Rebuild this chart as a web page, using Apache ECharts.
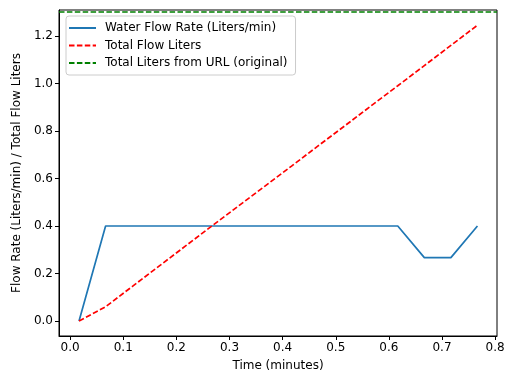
<!DOCTYPE html>
<html><head><meta charset="utf-8">
<script src="https://cdn.jsdelivr.net/npm/echarts@6/dist/echarts.min.js"></script>
<style>html,body{margin:0;padding:0;background:#fff}#c{width:512px;height:377px}</style>
</head><body><div id="c"></div>
<script>
var timeMin = [0.0167,0.0667,0.1167,0.1667,0.2167,0.2667,0.3167,0.3667,0.4167,0.4667,0.5167,0.5667,0.6167,0.6667,0.7167,0.7667];
var flowRate = [0,0.4,0.4,0.4,0.4,0.4,0.4,0.4,0.4,0.4,0.4,0.4,0.4,0.2667,0.2667,0.4];
var totalLiters = [0,0.06,0.145,0.23,0.315,0.40,0.484,0.568,0.652,0.737,0.821,0.906,0.99,1.075,1.16,1.245];
var urlTotal = 1.3;
var xTicks = [0,0.1,0.2,0.3,0.4,0.5,0.6,0.7,0.8];
var yTicks = [0,0.2,0.4,0.6,0.8,1.0,1.2];
var names = ['Water Flow Rate (Liters/min)','Total Flow Liters','Total Liters from URL (original)'];

function pairs(xs, ys){ return xs.map(function(x,i){return [x, ys[i]];}); }
var font = 'DejaVu Sans';
var dash = [5.5,2.4];
var chart = echarts.init(document.getElementById('c'), null, {renderer:'canvas'});
chart.setOption({
  animation:false,
  backgroundColor:'#fff',
  textStyle:{fontFamily:font},
  grid:{left:59,right:15,top:10,bottom:41,show:true,borderColor:'#000',borderWidth:1,backgroundColor:'transparent'},
  legend:{
    orient:'vertical', left:66, top:16, data:names,
    itemWidth:27, itemHeight:12, itemGap:5.5,
    padding:[6,8,6,2],
    itemStyle:{opacity:0},
    backgroundColor:'rgba(255,255,255,0.8)', borderColor:'#cccccc', borderWidth:1, borderRadius:3,
    textStyle:{fontFamily:font, fontSize:12, color:'#000', padding:[0,0,0,4]}
  },
  xAxis:{
    type:'value', min:-0.021, max:0.8035,
    name:'Time (minutes)', nameLocation:'middle', nameGap:24,
    nameTextStyle:{fontFamily:font, fontSize:12, color:'#000'},
    axisLine:{show:true,onZero:false,lineStyle:{color:'#000'}},
    axisTick:{show:true,length:4,customValues:xTicks,lineStyle:{color:'#000'}},
    axisLabel:{customValues:xTicks,fontFamily:font,fontSize:12,color:'#000',margin:6,formatter:function(v){return v.toFixed(1);}},
    splitLine:{show:false}
  },
  yAxis:{
    type:'value', min:-0.063, max:1.309,
    name:'Flow Rate (Liters/min) / Total Flow Liters', nameLocation:'middle', nameGap:33,
    nameTextStyle:{fontFamily:font, fontSize:12, color:'#000'},
    axisLine:{show:true,onZero:false,lineStyle:{color:'#000'}},
    axisTick:{show:true,length:4,customValues:yTicks,lineStyle:{color:'#000'}},
    axisLabel:{customValues:yTicks,fontFamily:font,fontSize:12,color:'#000',margin:6,formatter:function(v){return v.toFixed(1);}},
    splitLine:{show:false}
  },
  series:[
    {name:names[0], type:'line', data:pairs(timeMin, flowRate), symbol:'none', lineStyle:{color:'#1f77b4',width:1.7}, itemStyle:{color:'#1f77b4'}},
    {name:names[1], type:'line', data:pairs(timeMin, totalLiters), symbol:'none', lineStyle:{color:'#ff0000',width:1.7,type:dash}, itemStyle:{color:'#ff0000'}},
    {name:names[2], type:'line', data:[], symbol:'none', lineStyle:{color:'#008000',width:1.7,type:dash}, itemStyle:{color:'#008000'},
     markLine:{silent:true, symbol:['none','none'], label:{show:false}, lineStyle:{color:'#008000',width:1.7,type:dash}, data:[{yAxis:urlTotal}]}}
  ]
});
</script></body></html>
